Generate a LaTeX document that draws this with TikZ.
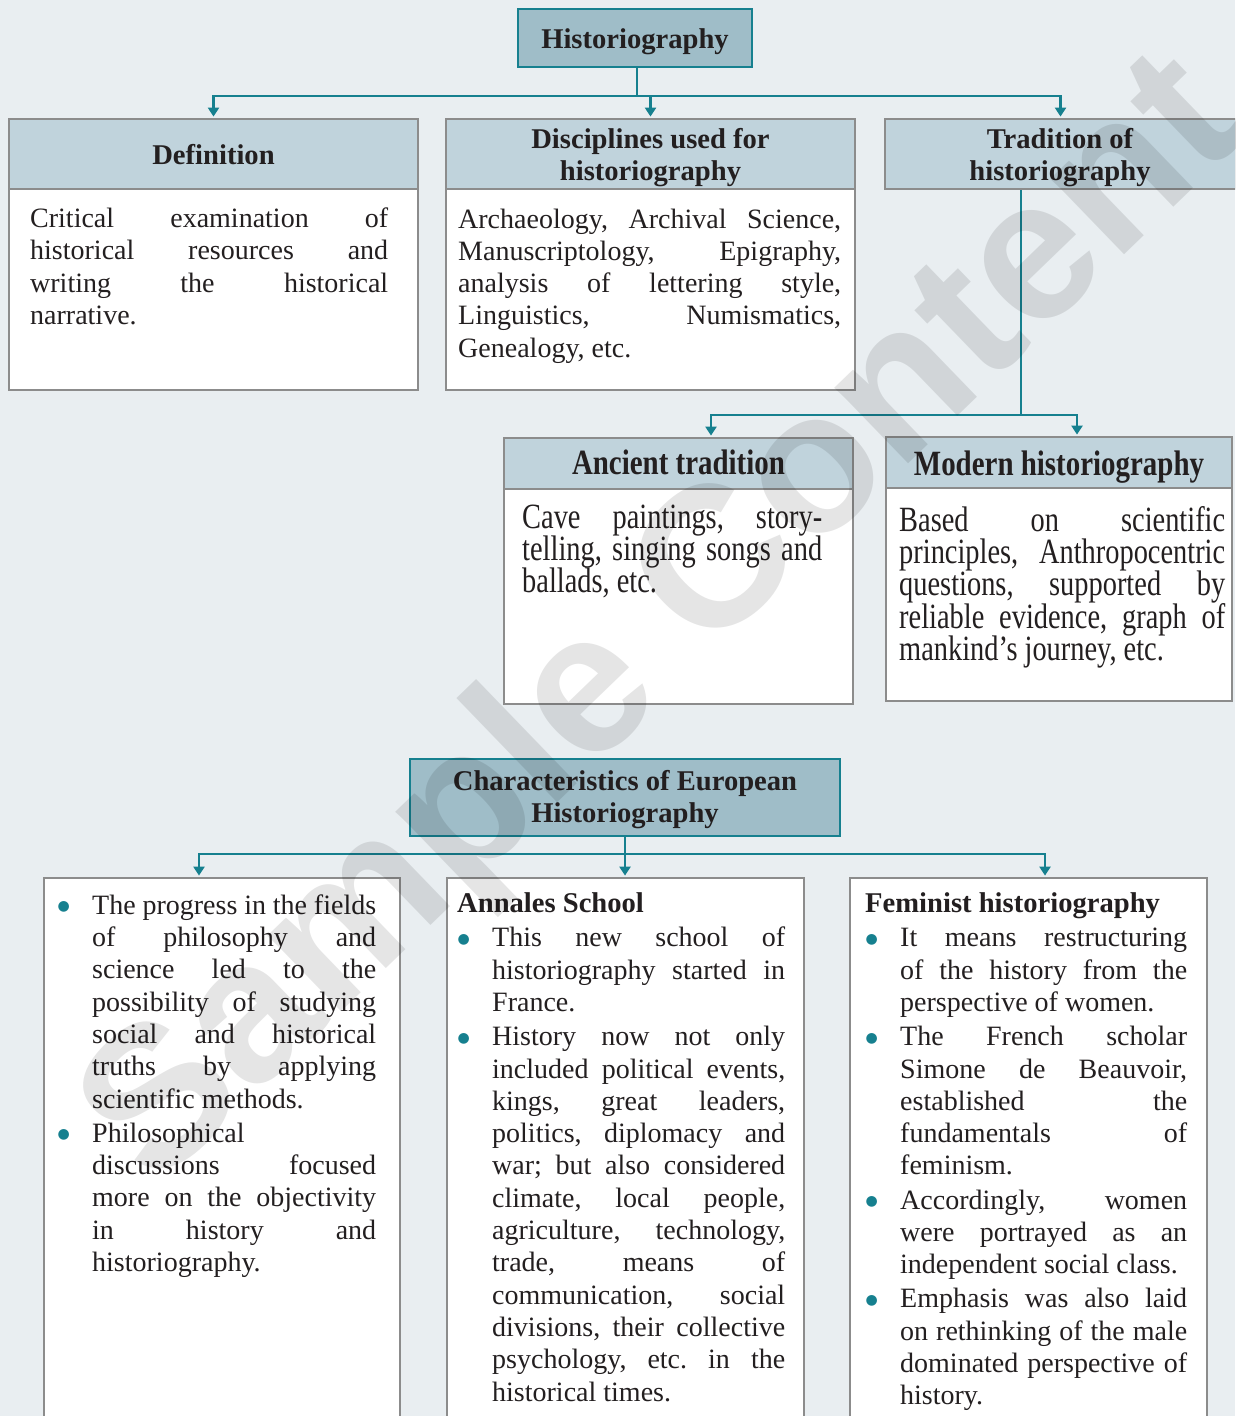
\documentclass[tikz,border=0pt]{standalone}
\usepackage{fontspec}
\setmainfont{Liberation Serif}
\newfontfamily\condfont{Liberation Serif}[FakeStretch=0.8]
\newfontfamily\condhfamily{Liberation Serif}[FakeStretch=0.815]
\newfontfamily\wmfont{Liberation Sans}
\newfontfamily\symfont{DejaVu Sans}
\usetikzlibrary{arrows.meta}
\definecolor{bgc}{HTML}{E9EEF1}
\definecolor{hdrc}{HTML}{C0D3DC}
\definecolor{topc}{HTML}{9FBDC8}
\definecolor{tealc}{HTML}{16808F}
\definecolor{greyb}{HTML}{8C8C8C}
\definecolor{txt}{HTML}{231F20}
\setlength{\parindent}{0pt}
\newcommand\parset{\frenchspacing\tolerance=10000\hbadness=10000\hfuzz=20pt\hyphenpenalty=10000\exhyphenpenalty=10000\parindent=0pt\lineskiplimit=-100pt}
\newcommand\bodyfont{\fontsize{28}{32.3}\selectfont\parset}
\newcommand\condbody{\condfont\fontsize{35.5}{32.3}\selectfont\parset}
\newcommand\hfont{\fontsize{28.6}{32.5}\selectfont\bfseries}
\newcommand\condhfont{\condhfamily\fontsize{35.5}{32.5}\selectfont\bfseries}
\newcommand\bul{\raisebox{3.5pt}{\symfont\fontsize{14}{14}\selectfont\textcolor{tealc}{●}}}
\newcommand\itmx{\hangindent=35pt\hangafter=0\noindent\llap{\makebox[35pt][l]{\hspace{0.5pt}\bul}}\strut}
\newcommand\itm{\par\vspace{1.9pt}\itmx}
\newenvironment{tb}[1]{\begin{minipage}[t]{#1}\parset}{\end{minipage}}
\begin{document}
\begin{tikzpicture}[x=1pt,y=-1pt,
  hdr/.style={draw=greyb, line width=1.8pt, fill=hdrc, inner sep=0pt},
  topbox/.style={draw=tealc, line width=1.8pt, fill=topc, inner sep=0pt},
  htxt/.style={inner sep=0pt, anchor=base, font=\hfont, text=txt},
  condhtxt/.style={htxt, font=\condhfont},
  bodyb/.style={draw=greyb, line width=1.8pt, fill=white, inner sep=0pt},
  conn/.style={draw=tealc, line width=2.4pt},
  arr/.style={conn, -{Triangle[width=11pt,length=9pt]}, shorten >=1.5pt},
  txtb/.style={inner sep=0pt, anchor=north west, text=txt, font=\bodyfont},
  condtxt/.style={txtb, font=\condbody}
]
\useasboundingbox (0,0) rectangle (1235,1416);
\begin{scope}
\clip (0,0) rectangle (1235,1416);
\fill[bgc] (0,0) rectangle (1235,1416);

% top
\node[topbox, minimum width=234pt, minimum height=58pt] (hist) at (635,38) {};
\node[htxt] (histt) at (635,48) {Historiography};

% level 1
\node[bodyb, minimum width=409pt, minimum height=201pt] (defb) at (213.5,289.5) {};
\node[hdr, minimum width=409pt, minimum height=70pt] (defh) at (213.5,154) {};
\node[htxt] (defht) at (213.5,164) {Definition};
\node[bodyb, minimum width=409pt, minimum height=201pt] (discb) at (650.5,289.5) {};
\node[hdr, minimum width=409pt, minimum height=70pt] (disch) at (650.5,154) {};
\node[htxt] (discht1) at (650.5,148.5) {Disciplines used for};
\node[htxt] (discht2) at (650.5,180.5) {historiography};
\node[hdr, minimum width=351pt, minimum height=70pt] (tradh) at (1060.5,154) {};
\node[htxt] (tradht1) at (1060,148.5) {Tradition of};
\node[htxt] (tradht2) at (1060,180.5) {historiography};

\node[txtb] (deft) at (30,204.8) {\begin{tb}{358pt}\strut Critical examination of\linebreak historical resources and\linebreak writing the historical\linebreak narrative.\end{tb}};
\node[txtb] (disct) at (458,205.2) {\begin{tb}{383pt}\strut Archaeology, Archival Science,\linebreak Manuscriptology, Epigraphy,\linebreak analysis of lettering style,\linebreak Linguistics, Numismatics,\linebreak Genealogy, etc.\end{tb}};

% level 2
\node[bodyb, minimum width=349pt, minimum height=215pt] (ancb) at (678.5,596.5) {};
\node[hdr, minimum width=349pt, minimum height=51pt] (anch) at (678.5,463.5) {};
\node[condhtxt] (ancht) at (678.5,474.5) {Ancient tradition};
\node[bodyb, minimum width=346pt, minimum height=213pt] (modb) at (1059,594.5) {};
\node[hdr, minimum width=346pt, minimum height=51pt] (modh) at (1059,462.5) {};
\node[condhtxt] (modht) at (1059,475) {Modern historiography};

\node[condtxt] (anct) at (522,504.4) {\begin{tb}{300pt}\strut Cave paintings, story-\linebreak telling, singing songs and\linebreak ballads, etc.\end{tb}};
\node[condtxt] (modt) at (899,505.9) {\begin{tb}{326pt}\strut Based on scientific\linebreak principles, Anthropocentric\linebreak questions, supported by\linebreak reliable evidence, graph of\linebreak mankind’s journey, etc.\end{tb}};

% characteristics
\node[topbox, minimum width=430pt, minimum height=77pt] (char) at (625,797.5) {};
\node[htxt] (chart1) at (625,790.5) {Characteristics of European};
\node[htxt] (chart2) at (625,822.5) {Historiography};

\node[bodyb, minimum width=356pt, minimum height=560pt] (b1) at (222,1158) {};
\node[bodyb, minimum width=357pt, minimum height=560pt] (b2) at (625.5,1158) {};
\node[bodyb, minimum width=357pt, minimum height=560pt] (b3) at (1028.5,1158) {};

\node[txtb] (b1t) at (57,891.4) {\begin{tb}{319pt}%
\itmx The progress in the fields\linebreak of philosophy and\linebreak science led to the\linebreak possibility of studying\linebreak social and historical\linebreak truths by applying\linebreak scientific methods.
\itm Philosophical\linebreak discussions focused\linebreak more on the objectivity\linebreak in history and\linebreak historiography.\end{tb}};

\node[txtb] (b2t) at (457,889.9) {\begin{tb}{328pt}%
\strut{\hfont Annales School}
\itm This new school of\linebreak historiography started in\linebreak France.
\itm History now not only\linebreak included political events,\linebreak kings, great leaders,\linebreak politics, diplomacy and\linebreak war; but also considered\linebreak climate, local people,\linebreak agriculture, technology,\linebreak trade, means of\linebreak communication, social\linebreak divisions, their collective\linebreak psychology, etc. in the\linebreak historical times.\end{tb}};

\node[txtb] (b3t) at (865,889.9) {\begin{tb}{322pt}%
\strut{\hfont Feminist historiography}
\itm It means restructuring\linebreak of the history from the\linebreak perspective of women.
\itm The French scholar\linebreak Simone de Beauvoir,\linebreak established the\linebreak fundamentals of\linebreak feminism.
\itm Accordingly, women\linebreak were portrayed as an\linebreak independent social class.
\itm Emphasis was also laid\linebreak on rethinking of the male\linebreak dominated perspective of\linebreak history.\end{tb}};

% connectors
\draw[conn] ([xshift=2pt]hist.south) -- ++(0,28) coordinate (j1);
\draw[conn] (defh.north |- j1) -- (tradh.north |- j1);
\draw[arr] (j1) -| (defh.north);
\draw[arr] (j1) -| (disch.north);
\draw[arr] (j1) -| (tradh.north);

\draw[conn] ([xshift=-39.5pt]tradh.south) -- ++(0,225) coordinate (j2);
\draw[arr] (j2) -| ([xshift=32.5pt]anch.north);
\draw[arr] (j2) -| ([xshift=18pt]modh.north);

\draw[conn] (char.south) -- ++(0,17) coordinate (j3);
\draw[arr] (j3) -- (j3 |- b2.north);
\draw[arr] (j3) -| ([xshift=-23pt]b1.north);
\draw[arr] (j3) -| ([xshift=16.5pt]b3.north);

% watermark
\node[rotate=44, text=black, text opacity=0.1, font=\wmfont\bfseries\fontsize{200}{200}\selectfont] (wm) at (667,625) {Sample Content};
\end{scope}
\end{tikzpicture}
\end{document}
